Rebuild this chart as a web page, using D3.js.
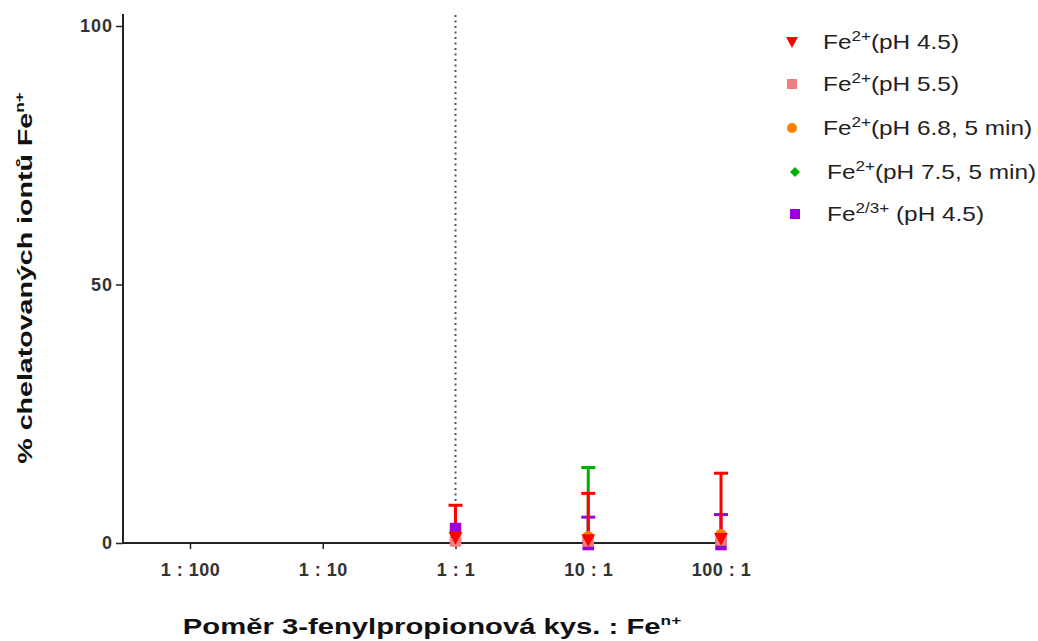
<!DOCTYPE html>
<html>
<head>
<meta charset="utf-8">
<script src="https://cdn.jsdelivr.net/npm/d3@7"></script>
<style>
  body { margin: 0; background: #fff; }
  text { font-family: "Liberation Sans", Arial, sans-serif; }
</style>
</head>
<body>
<svg id="chart" width="1038" height="641"></svg>
<script>
var ratios = ['1 : 100', '1 : 10', '1 : 1', '10 : 1', '100 : 1'];
var yTicks = [0, 50, 100];

// means and upper SD per ratio (null = not measured)
var fe2_ph45 = [null, null, 1.0, 0.6, 0.8];
var fe2_ph45_err = [null, null, 6.3, 9.0, 12.7];
var fe2_ph55 = [null, null, 0.4, 0.4, 0.6];
var fe2_ph55_err = [null, null, 0, 0, 0];
var fe2_ph68 = [null, null, 0.6, 1.2, 1.6];
var fe2_ph68_err = [null, null, 0, 0, 0];
var fe2_ph75 = [null, null, 0.3, 0.8, 0.4];
var fe2_ph75_err = [null, null, 0, 13.8, 0];
var fe23_ph45 = [null, null, 2.8, -0.3, -0.3];
var fe23_ph45_err = [null, null, 0, 5.3, 5.8];

var seriesNames = ['(pH 4.5)', '(pH 5.5)', '(pH 6.8, 5 min)', '(pH 7.5, 5 min)', ' (pH 4.5)'];
var seriesSup = ['2+', '2+', '2+', '2+', '2/3+'];

var series = [
  {vals: fe2_ph45, err: fe2_ph45_err, color: '#ff0000', sym: 'tri'},
  {vals: fe2_ph55, err: fe2_ph55_err, color: '#f08080', sym: 'square'},
  {vals: fe2_ph68, err: fe2_ph68_err, color: '#ff8000', sym: 'circle'},
  {vals: fe2_ph75, err: fe2_ph75_err, color: '#00b000', sym: 'diamond'},
  {vals: fe23_ph45, err: fe23_ph45_err, color: '#9900dd', sym: 'square2'}
];

var svg = d3.select('#chart');
var x0 = 123, yBottom = 543;

var xScale = d3.scalePoint().domain(ratios).range([190, 721]);
var yScale = d3.scaleLinear().domain([0, 100]).range([yBottom, 26]);

function symbolPath(sym, k) {
  k = k || 1;
  if (sym == 'tri') return `M${-6*k},${-5*k}L${6*k},${-5*k}L0,${6*k}Z`;
  if (sym == 'circle') return d3.symbol(d3.symbolCircle, 80 * k * k)();
  if (sym == 'diamond') return `M0,${-5*k}L${5*k},0L0,${5*k}L${-5*k},0Z`;
  return `M${-5*k},${-5*k}L${5*k},${-5*k}L${5*k},${5*k}L${-5*k},${5*k}Z`;
}

// dotted reference line at 1:1
svg.append('line')
  .attr('x1', xScale('1 : 1')).attr('x2', xScale('1 : 1'))
  .attr('y1', 15).attr('y2', yBottom)
  .attr('stroke', '#555').attr('stroke-width', 2)
  .attr('stroke-dasharray', '2,3.5');

// axes
svg.append('line').attr('x1', x0).attr('x2', x0).attr('y1', 14).attr('y2', yBottom)
  .attr('stroke', '#222').attr('stroke-width', 2);
svg.append('line').attr('x1', x0).attr('x2', 722).attr('y1', yBottom).attr('y2', yBottom)
  .attr('stroke', '#222').attr('stroke-width', 2);

var yAxis = svg.append('g').attr('transform', `translate(${x0},0)`)
  .call(d3.axisLeft(yScale).tickValues(yTicks).tickSize(7).tickFormat(d3.format('d')));
yAxis.select('.domain').remove();
yAxis.selectAll('line').attr('stroke', '#222').attr('stroke-width', 1.5);
yAxis.selectAll('text').attr('font-size', 18).attr('font-weight', 'bold').attr('letter-spacing', 1)
  .attr('fill', '#333').attr('font-family', '"Liberation Sans", Arial, sans-serif').attr('x', -10);

var xAxis = svg.append('g').attr('transform', `translate(0,${yBottom})`)
  .call(d3.axisBottom(xScale).tickSize(6).tickPadding(14));
xAxis.select('.domain').remove();
xAxis.selectAll('line').attr('stroke', '#222').attr('stroke-width', 1.5);
xAxis.selectAll('text').attr('font-size', 18).attr('font-weight', 'bold').attr('letter-spacing', 0.5)
  .attr('fill', '#333').attr('font-family', '"Liberation Sans", Arial, sans-serif');

// error bars, then markers (red on top)
var order = [4, 3, 2, 1, 0];
order.forEach(function(si) {
  var s = series[si];
  var g = svg.append('g');
  ratios.forEach(function(r, i) {
    if (s.vals[i] == null || !s.err[i]) return;
    var cx = xScale(r);
    var top = yScale(s.vals[i] + s.err[i]);
    g.append('line').attr('x1', cx).attr('x2', cx)
      .attr('y1', yScale(s.vals[i])).attr('y2', top)
      .attr('stroke', s.color).attr('stroke-width', 3);
    g.append('line').attr('x1', cx - 7).attr('x2', cx + 7)
      .attr('y1', top).attr('y2', top)
      .attr('stroke', s.color).attr('stroke-width', 3);
  });
});
order.forEach(function(si) {
  var s = series[si];
  ratios.forEach(function(r, i) {
    if (s.vals[i] == null) return;
    svg.append('path')
      .attr('d', symbolPath(s.sym, 1.15))
      .attr('transform', `translate(${xScale(r)},${yScale(s.vals[i])})`)
      .attr('fill', s.color);
  });
});

// legend
var legendY = [42, 84, 128, 172, 214];
var legendX = [792, 792, 792, 795, 795];
var textX = [823, 823, 823, 827, 827];
series.forEach(function(s, i) {
  svg.append('path').attr('d', symbolPath(s.sym))
    .attr('transform', `translate(${legendX[i]},${legendY[i]})`)
    .attr('fill', s.color);
  var t = svg.append('text')
    .attr('transform', `translate(${textX[i]},${legendY[i] + 7}) scale(1.22,1)`)
    .attr('font-size', 20).attr('fill', '#222');
  t.append('tspan').text('Fe');
  t.append('tspan').attr('dy', -8).attr('font-size', 14).text(seriesSup[i]);
  t.append('tspan').attr('dy', 8).text(seriesNames[i]);
});

// axis titles
var yt = svg.append('text')
  .attr('transform', 'translate(32,278) rotate(-90) scale(1.43,1)')
  .attr('text-anchor', 'middle').attr('font-size', 20).attr('font-weight', 'bold').attr('fill', '#111');
yt.append('tspan').text('% chelatovaných iontů Fe');
yt.append('tspan').attr('dy', -8).attr('font-size', 12).text('n+');

var xt = svg.append('text')
  .attr('transform', 'translate(432,634) scale(1.33,1)')
  .attr('text-anchor', 'middle').attr('font-size', 22).attr('font-weight', 'bold').attr('fill', '#111');
xt.append('tspan').text('Poměr 3-fenylpropionová kys. : Fe');
xt.append('tspan').attr('dy', -9).attr('font-size', 13).text('n+');
</script>
</body>
</html>
